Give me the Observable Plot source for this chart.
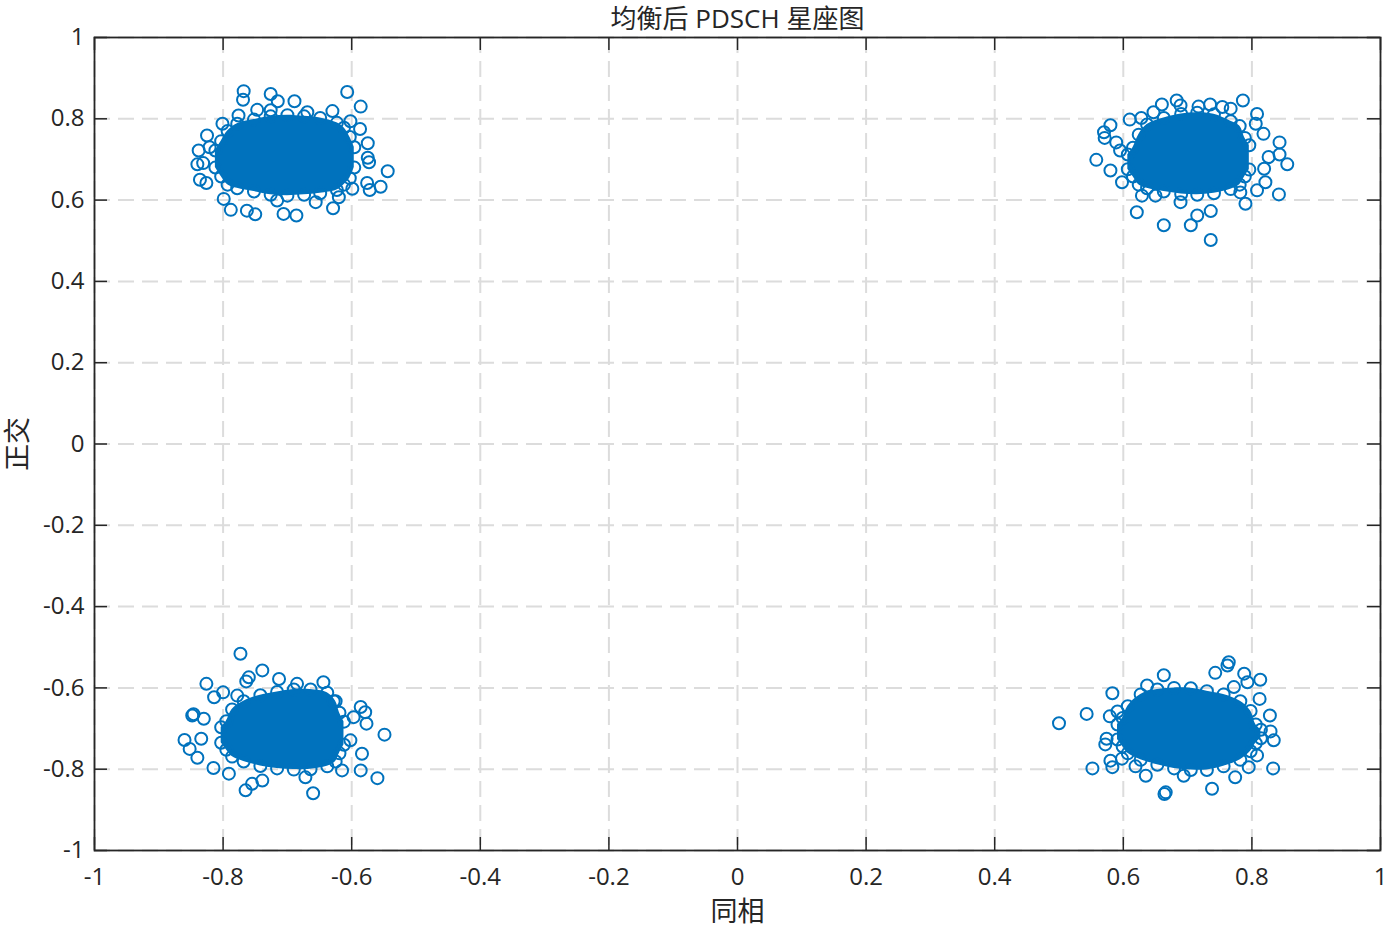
<!DOCTYPE html>
<html><head><meta charset="utf-8">
<script src="https://cdn.jsdelivr.net/npm/d3@7"></script>
<script src="https://cdn.jsdelivr.net/npm/@observablehq/plot@0.6"></script>
<style>body{margin:0;background:#fff}</style>
</head><body><div id="chart"></div>
<script>
// Tick values
const xTicks = [-1, -0.8, -0.6, -0.4, -0.2, 0, 0.2, 0.4, 0.6, 0.8, 1];
const yTicks = [-1, -0.8, -0.6, -0.4, -0.2, 0, 0.2, 0.4, 0.6, 0.8, 1];

// Dense cores of the four clusters: [in-phase, quadrature low, quadrature high]
const coreTL = [[-0.812,0.680,0.722],[-0.803,0.658,0.745],[-0.793,0.638,0.770],[-0.778,0.629,0.788],[-0.752,0.621,0.798],[-0.726,0.613,0.806],[-0.700,0.611,0.809],[-0.674,0.613,0.806],[-0.649,0.617,0.802],[-0.623,0.625,0.790],[-0.612,0.638,0.778],[-0.603,0.654,0.755],[-0.596,0.680,0.730]];
const coreTR = [[0.607,0.676,0.712],[0.615,0.658,0.729],[0.624,0.638,0.761],[0.637,0.629,0.786],[0.663,0.621,0.802],[0.690,0.615,0.812],[0.715,0.613,0.815],[0.741,0.617,0.811],[0.767,0.627,0.794],[0.781,0.638,0.782],[0.789,0.658,0.753],[0.796,0.675,0.735]];
const coreBL = [[-0.803,-0.735,-0.697],[-0.795,-0.752,-0.682],[-0.786,-0.769,-0.653],[-0.768,-0.781,-0.633],[-0.742,-0.792,-0.618],[-0.716,-0.798,-0.610],[-0.690,-0.801,-0.604],[-0.664,-0.800,-0.604],[-0.638,-0.793,-0.612],[-0.625,-0.781,-0.633],[-0.619,-0.761,-0.661],[-0.612,-0.740,-0.683]];
const coreBR = [[0.591,-0.727,-0.690],[0.599,-0.744,-0.674],[0.607,-0.761,-0.645],[0.627,-0.777,-0.616],[0.653,-0.789,-0.604],[0.679,-0.798,-0.600],[0.705,-0.802,-0.601],[0.730,-0.802,-0.608],[0.756,-0.793,-0.616],[0.782,-0.777,-0.633],[0.798,-0.756,-0.657],[0.806,-0.736,-0.690],[0.814,-0.724,-0.703]];

// Scattered symbols around each cluster: [in-phase, quadrature]
const outTL = [[-0.768,0.868],[-0.769,0.847],[-0.726,0.861],[-0.715,0.843],[-0.689,0.843],[-0.607,0.866],[-0.586,0.830],[-0.630,0.819],[-0.602,0.794],[-0.587,0.775],[-0.575,0.740],[-0.575,0.704],[-0.573,0.693],[-0.544,0.671],[-0.576,0.642],[-0.572,0.625],[-0.555,0.633],[-0.599,0.628],[-0.620,0.607],[-0.629,0.580],[-0.686,0.562],[-0.706,0.566],[-0.750,0.565],[-0.763,0.574],[-0.788,0.576],[-0.799,0.603],[-0.836,0.650],[-0.826,0.642],[-0.840,0.688],[-0.831,0.691],[-0.838,0.722],[-0.825,0.759],[-0.821,0.730],[-0.801,0.788],[-0.776,0.808],[-0.747,0.822],[-0.726,0.821],[-0.669,0.816],[-0.656,0.595],[-0.716,0.599]];
const outTR = [[0.580,0.784],[0.570,0.767],[0.571,0.753],[0.558,0.699],[0.589,0.742],[0.595,0.722],[0.580,0.673],[0.598,0.644],[0.610,0.798],[0.628,0.802],[0.647,0.816],[0.660,0.835],[0.683,0.845],[0.689,0.833],[0.717,0.830],[0.735,0.835],[0.754,0.829],[0.767,0.825],[0.786,0.845],[0.808,0.812],[0.806,0.788],[0.818,0.763],[0.843,0.742],[0.843,0.712],[0.855,0.688],[0.826,0.706],[0.819,0.677],[0.821,0.644],[0.842,0.614],[0.808,0.624],[0.790,0.591],[0.736,0.573],[0.715,0.562],[0.705,0.538],[0.736,0.502],[0.663,0.538],[0.621,0.570],[0.629,0.611],[0.650,0.611],[0.689,0.595],[0.782,0.619]];
const outBL = [[-0.773,-0.516],[-0.739,-0.557],[-0.760,-0.574],[-0.764,-0.584],[-0.826,-0.590],[-0.814,-0.623],[-0.800,-0.611],[-0.778,-0.619],[-0.846,-0.665],[-0.848,-0.668],[-0.830,-0.676],[-0.860,-0.728],[-0.852,-0.750],[-0.840,-0.772],[-0.834,-0.725],[-0.815,-0.797],[-0.791,-0.811],[-0.765,-0.852],[-0.755,-0.836],[-0.739,-0.828],[-0.672,-0.820],[-0.660,-0.859],[-0.615,-0.803],[-0.586,-0.803],[-0.560,-0.822],[-0.584,-0.762],[-0.549,-0.715],[-0.586,-0.647],[-0.579,-0.660],[-0.597,-0.672],[-0.577,-0.688],[-0.628,-0.633],[-0.644,-0.586],[-0.713,-0.578],[-0.685,-0.590],[-0.602,-0.729]];
const outBR = [[0.500,-0.687],[0.543,-0.664],[0.583,-0.613],[0.552,-0.798],[0.583,-0.795],[0.572,-0.739],[0.574,-0.725],[0.579,-0.670],[0.591,-0.658],[0.580,-0.779],[0.598,-0.774],[0.619,-0.793],[0.635,-0.816],[0.664,-0.861],[0.666,-0.857],[0.694,-0.816],[0.738,-0.848],[0.774,-0.820],[0.795,-0.795],[0.833,-0.798],[0.834,-0.729],[0.829,-0.707],[0.828,-0.668],[0.812,-0.627],[0.813,-0.580],[0.788,-0.565],[0.793,-0.586],[0.764,-0.537],[0.762,-0.545],[0.743,-0.563],[0.663,-0.569],[0.637,-0.594],[0.808,-0.766],[0.772,-0.598]];

const titleText = "均衡后 PDSCH 星座图";
const xLabel = "同相";
const yLabel = "正交";

const blue = "#0072BD";
const ink = "#262626";
const font = "'Open Sans','Noto Sans CJK SC',sans-serif";
const fmt = d => String(d);

const cores = [coreTL, coreTR, coreBL, coreBR];
const coreRows = cores.flatMap((c, i) => c.map(([x, y1, y2]) => ({x, y1, y2, c: i})));
const dots = [outTL, outTR, outBL, outBR].flatMap(a => a.map(([x, y]) => ({x, y})))
  .concat(coreRows.flatMap(r => [{x: r.x, y: r.y1}, {x: r.x, y: r.y2}]));

const W = 1385, H = 929, mL = 94, mR = 5, mT = 37, mB = 79;
const fw = W - mL - mR, fh = H - mT - mB, tk = 13;
const grid = {stroke: "#dcdcdc", strokeOpacity: 1, strokeWidth: 2, strokeDasharray: "16,8"};

const chart = Plot.plot({
  width: W, height: H,
  marginLeft: mL, marginRight: mR, marginTop: mT, marginBottom: mB,
  x: {domain: [-1, 1]},
  y: {domain: [-1, 1]},
  style: {fontFamily: font, fontSize: "24px", color: ink, background: "#fff", overflow: "visible"},
  marks: [
    Plot.gridX(xTicks, grid),
    Plot.gridY(yTicks, grid),
    Plot.areaY(coreRows, {x: "x", y1: "y1", y2: "y2", z: "c", fill: blue, curve: "catmull-rom"}),
    Plot.dot(dots, {x: "x", y: "y", r: 6, stroke: blue, strokeWidth: 2, fill: "none"}),
    Plot.ruleX(xTicks, {x: d => d, insetTop: fh - tk, stroke: ink, strokeWidth: 1.5}),
    Plot.ruleX(xTicks, {x: d => d, insetBottom: fh - tk, stroke: ink, strokeWidth: 1.5}),
    Plot.ruleY(yTicks, {y: d => d, insetRight: fw - tk, stroke: ink, strokeWidth: 1.5}),
    Plot.ruleY(yTicks, {y: d => d, insetLeft: fw - tk, stroke: ink, strokeWidth: 1.5}),
    Plot.frame({stroke: ink, strokeWidth: 1.8}),
    Plot.axisX(xTicks, {anchor: "bottom", tickSize: 0, tickPadding: 17, tickFormat: fmt, fontSize: 24, fill: ink, label: null}),
    Plot.axisY(yTicks, {anchor: "left", tickSize: 0, tickPadding: 10, tickFormat: fmt, fontSize: 24, fill: ink, label: null}),
    Plot.text([titleText], {text: d => d, frameAnchor: "top", lineAnchor: "middle", dy: -18, fontSize: 26, fill: ink}),
    Plot.text([xLabel], {text: d => d, frameAnchor: "bottom", lineAnchor: "middle", dy: 62, fontSize: 27, fill: ink}),
    Plot.text([yLabel], {text: d => d, frameAnchor: "left", textAnchor: "middle", lineAnchor: "middle", dx: -76, rotate: -90, fontSize: 27, fill: ink})
  ]
});
document.getElementById("chart").appendChild(chart);
</script>
</body></html>
